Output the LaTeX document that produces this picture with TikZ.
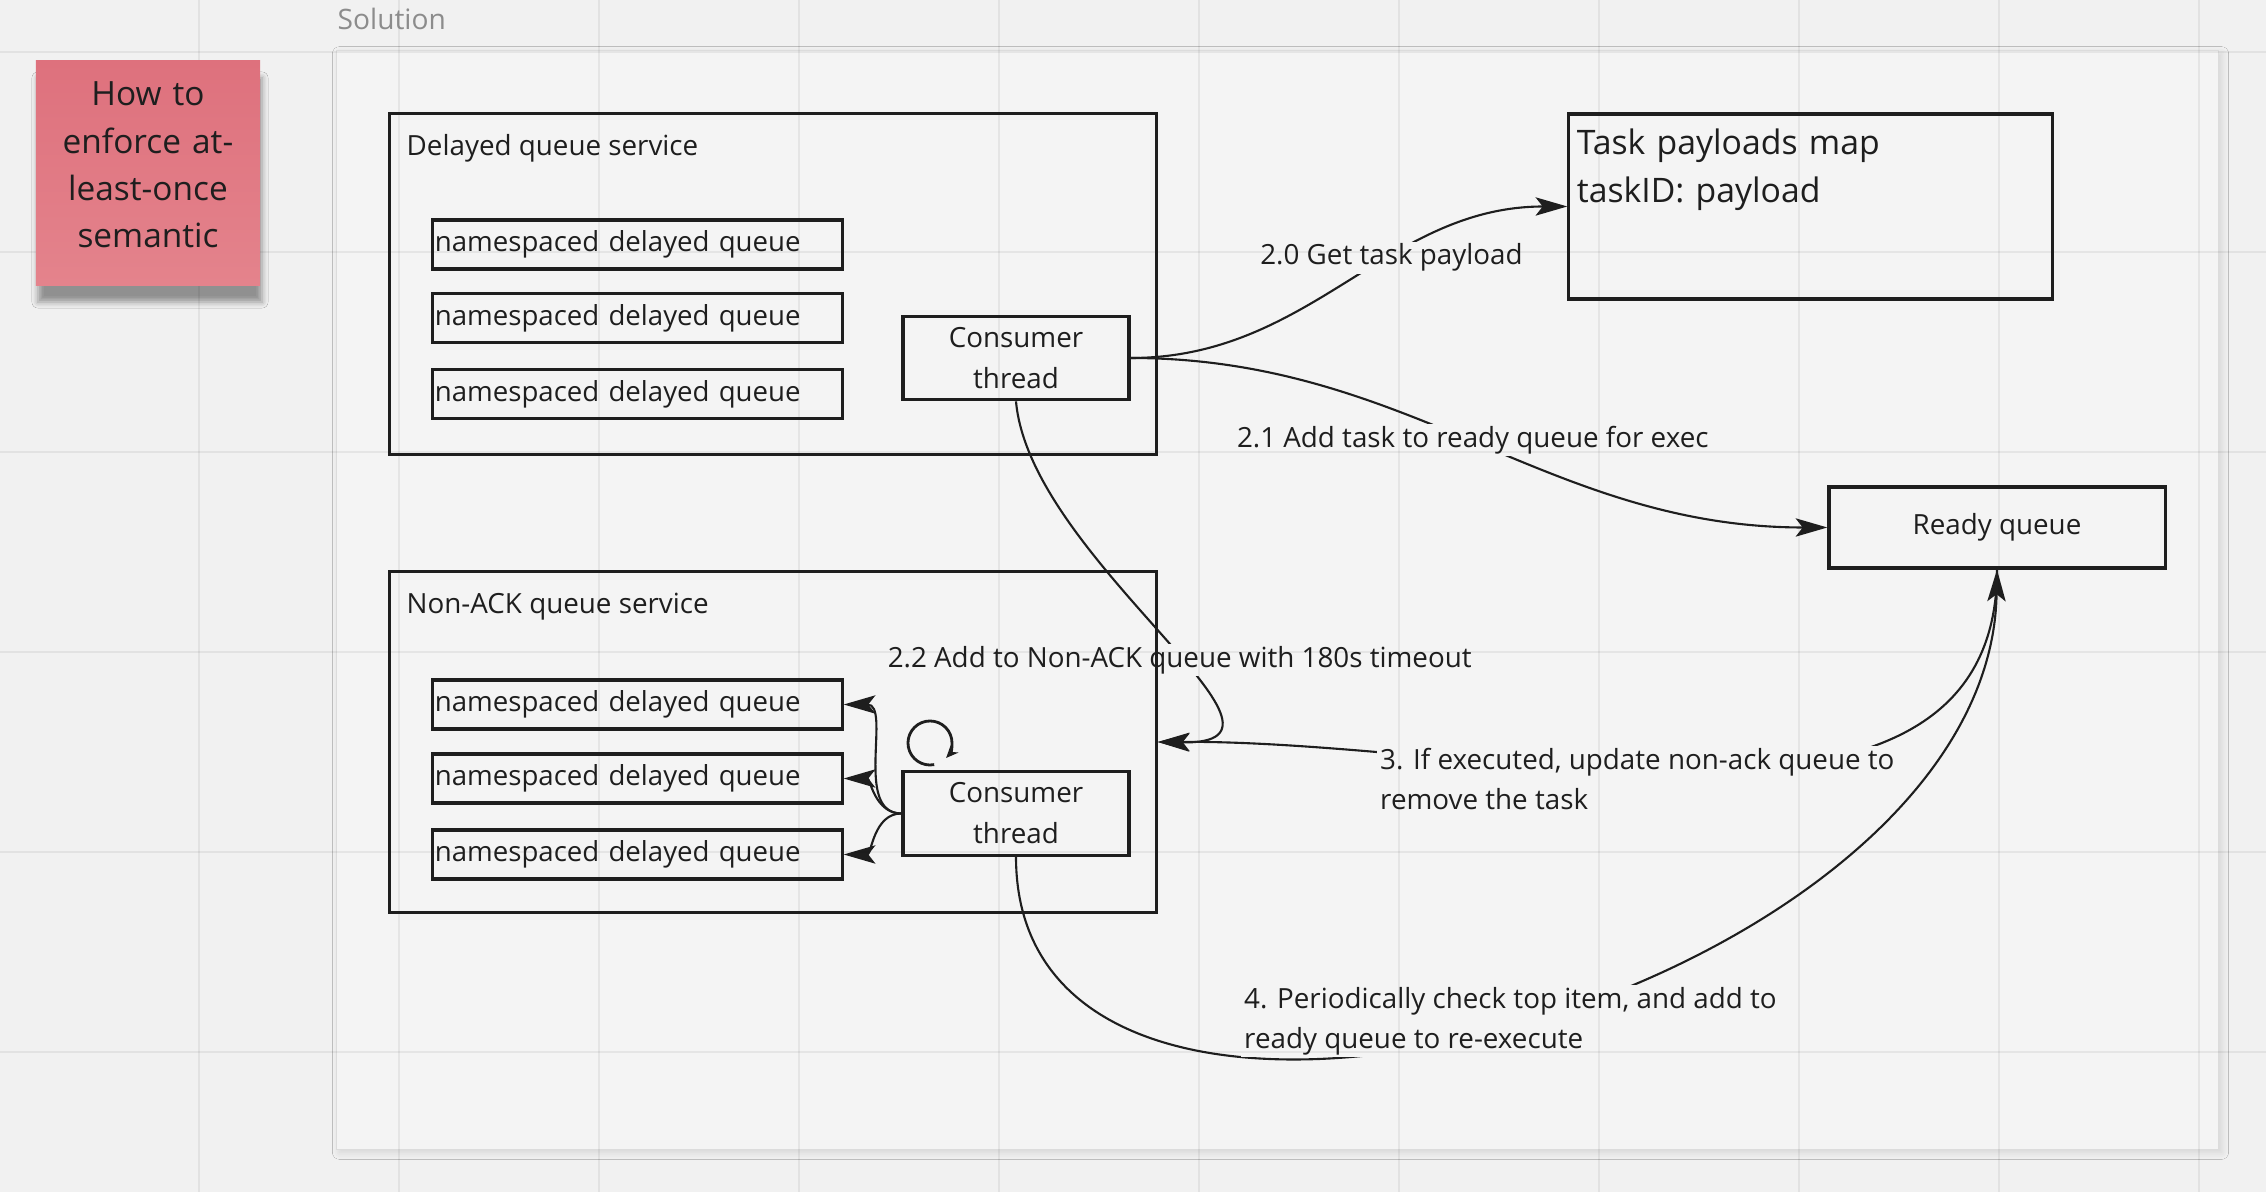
\documentclass[tikz,border=0pt]{standalone}
\usepackage{fontspec}
\setmainfont{Open Sans}
\usetikzlibrary{arrows.meta,backgrounds,shadows.blur}
\definecolor{Ink}{HTML}{1E1E1E}
\definecolor{Canvas}{HTML}{F1F1F1}
\definecolor{Sheet}{HTML}{F4F4F4}
\definecolor{SheetLine}{HTML}{DCDCDC}
\definecolor{Quiet}{HTML}{8C8C8C}
\definecolor{StickyTop}{HTML}{DE717D}
\definecolor{StickyBot}{HTML}{E4838C}
\tikzset{
  bx/.style={rectangle,draw=Ink,line width=0.9pt,inner sep=0pt,text=Ink},
  svc/.style={bx,minimum width=7.66cm,minimum height=3.40cm},
  qbx/.style={bx,minimum width=4.09cm,minimum height=0.49cm,text width=4.05cm,align=left,font=\fontsize{7.85}{11.4}\selectfont},
  thr/.style={bx,minimum width=2.26cm,minimum height=0.835cm,align=center,font=\fontsize{7.9}{11.7}\selectfont},
  mapbx/.style={bx,inner xsep=0.08cm,text width=4.67cm,align=left,text height=0.41cm,text depth=1.44cm,font=\fontsize{9.6}{13.4}\selectfont},
  rdy/.style={bx,minimum width=3.36cm,minimum height=0.81cm,font=\fontsize{7.9}{11.4}\selectfont},
  ttl/.style={anchor=west,inner sep=0pt,font=\fontsize{7.9}{11.4}\selectfont,text=Ink},
  lnk/.style={draw=Ink,line width=0.6pt,-{Stealth[length=9pt,width=5.2pt,inset=2pt]}},
  spinarr/.style={draw=Ink,line width=0.8pt,-{Stealth[length=3.5pt,width=3pt]}},
  lbl/.style={fill=Sheet,inner xsep=1pt,inner ysep=0.6pt,font=\fontsize{7.9}{11.4}\selectfont,text=Ink},
  sheet/.style={rectangle,fill=Sheet,draw=SheetLine,line width=0.4pt,minimum width=18.81cm,minimum height=10.98cm,
    blur shadow={shadow xshift=0.03cm,shadow yshift=-0.03cm,shadow blur radius=0.07cm,shadow opacity=12}},
  sticky/.style={rectangle,top color=StickyTop,bottom color=StickyBot,inner sep=0pt,text width=2.24cm,
    align=center,text height=0.45cm,text depth=1.79cm,font=\fontsize{9.5}{13.4}\selectfont,text=Ink,
    blur shadow={shadow xshift=0.02cm,shadow yshift=-0.17cm,shadow blur radius=0.06cm,shadow opacity=40}},
  gridln/.style={draw=black,opacity=0.06,line width=0.7pt},
}

\begin{document}
\begin{tikzpicture}[x=0.01cm,y=-0.01cm]
\useasboundingbox (0,0) rectangle (2266,1192);
% -delayed queue service-
\node[svc] (dqs) at (773,284) {};
\node[ttl] (dqsname) at (406,148) {Delayed queue service};
\node[qbx] (dq1) at (637.5,244.5) {namespaced delayed queue};
\node[qbx] (dq2) at (637.5,318) {namespaced delayed queue};
\node[qbx] (dq3) at (637.5,394) {namespaced delayed queue};
\node[thr] (tcons) at (1016,358) {Consumer\\thread};
% -non-ack queue service-
\node[svc] (nqs) at (773,742) {};
\node[ttl] (nqsname) at (406,607) {Non-ACK queue service};
\node[qbx] (nq1) at (637.5,704.5) {namespaced delayed queue};
\node[qbx] (nq2) at (637.5,778.5) {namespaced delayed queue};
\node[qbx] (nq3) at (637.5,854.5) {namespaced delayed queue};
\node[thr] (bcons) at (1016,813.5) {Consumer\\thread};
% -stores-
\node[mapbx] (task) at (1810.5,206.5) {Task payloads map\\taskID: payload};
\node[rdy] (ready) at (1997,527.5) {Ready queue};
% -note and frame title-
\node[sticky] (note) at (148,173) {How to\\enforce at-\\least-once\\semantic};
\node[anchor=west,inner sep=0pt,font=\fontsize{8}{11}\selectfont,text=Quiet] (soltxt) at (337,19) {Solution};
\begin{scope}[on background layer]
\fill[Canvas] (0,0) rectangle (2266,1192);
\node[sheet] (frame) at (1277.5,600) {};
% -flows-
\draw[lnk] (tcons.east) to[out=0,in=180] node[lbl,pos=0.61] (l20) {2.0 Get task payload} (task.west);
\draw[lnk] (tcons.east) to[out=0,in=180] node[lbl,pos=0.49] (l21) {2.1 Add task to ready queue for exec} (ready.west);
\draw[lnk] (tcons.south) .. controls (1030,560) and (1330,745) .. (nqs.east) node[lbl,pos=0.575] (l22) {2.2 Add to Non-ACK queue with 180s timeout};
\draw[lnk] (ready.south) .. controls (1997,880) and (1500,740) .. (nqs.east);
\node[lbl,anchor=west,align=left] (l3) at (1376,779) {3. If executed, update non-ack queue to\\remove the task};
\draw[lnk] (bcons.south) .. controls (1016,1262) and (1990,1000) .. (ready.south);
\node[lbl,anchor=west,align=left] (l4) at (1240,1021) {4. Periodically check top item, and add to\\ready queue to re-execute};
\foreach \q in {nq1,nq2,nq3}{\draw[lnk] (bcons.west) to[out=180,in=0] (\q.east);}
\coordinate (spin) at (930,743);
\draw[spinarr] (spin) ++(281:0.22cm) arc[start angle=281,end angle=-43,radius=0.22cm];
% -grid-
\foreach \gx in {0,...,10}{\draw[gridln] (199+200*\gx,0) -- (199+200*\gx,1192);}
\foreach \gy in {0,...,5}{\draw[gridln] (0,52+200*\gy) -- (2266,52+200*\gy);}
\end{scope}
\end{tikzpicture}
\end{document}
